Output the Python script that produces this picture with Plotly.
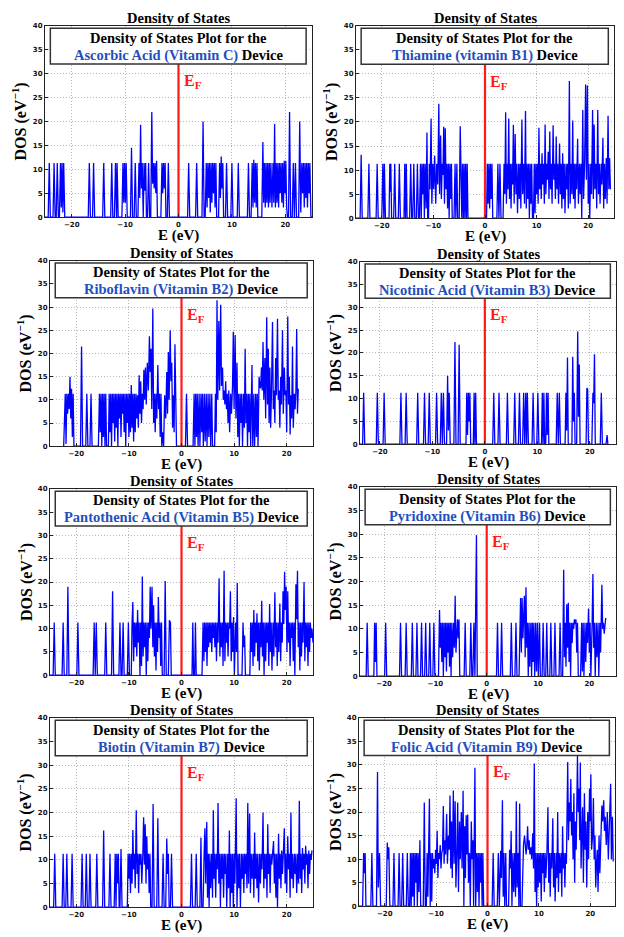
import plotly.graph_objects as go

# ---------------- data: (E in eV, DOS in 1/eV) ----------------
ascorbic_E_DOS = [(-25,0),(-24.4,0),(-24.2,11.3),(-24.0,0),(-23.5,0),(-23.3,11.3),(-23.1,0),(-22.9,0),(-22.7,11.3),(-22.5,0),
(-22.3,0),(-22.1,11.3),(-21.95,2),(-21.8,11.3),(-21.65,1),(-21.5,11.3),(-21.3,0),(-16.9,0),(-16.7,11.3),(-16.5,0),
(-16.1,0),(-15.9,11.3),(-15.7,0),(-14.2,0),(-14.0,11.3),(-13.8,0),(-12.7,0),(-12.5,11.3),(-12.3,0),
(-12.0,0),(-11.8,11.3),(-11.6,0),(-11.5,11.3),(-11.3,0),(-10.6,0),(-10.4,11.3),(-10.25,3),(-10.1,11.3),(-9.95,3),(-9.8,11.3),(-9.6,0),
(-9.0,0),(-8.8,14.5),(-8.6,0),(-8.3,0),(-8.1,11.3),(-7.9,0),(-7.6,0),(-7.4,11.3),(-7.25,4),(-7.1,19.3),(-6.95,6),(-6.8,11.3),(-6.65,0),
(-6.6,0),(-6.45,11.3),(-6.3,5.5),(-6.15,11.3),(-6.0,0),(-5.8,0),(-5.6,11.3),(-5.4,0),
(-5.2,0),(-5.0,22),(-4.85,7),(-4.7,11.3),(-4.55,6),(-4.4,11.3),(-4.25,5),(-4.1,11.8),(-3.95,0),
(-3.3,0),(-3.1,11.3),(-2.95,5),(-2.8,11.3),(-2.65,6),(-2.5,11.3),(-2.35,0),(-2.1,0),(-1.9,11.3),(-1.7,0),
(1.7,0),(1.9,11.3),(2.1,0),(3.2,0),(3.4,11.3),(3.6,0),(4.4,0),(4.6,20),(4.8,0),
(5.0,0),(5.2,11.3),(5.35,2),(5.5,11.3),(5.65,4),(5.8,11.3),(5.95,1),(6.1,11.3),(6.25,3),(6.4,11.3),(6.55,5),(6.7,11.3),(6.85,2),(7.0,11.3),(7.15,0),
(7.5,0),(7.7,11.3),(7.85,4),(8.0,12.7),(8.15,6),(8.3,11.3),(8.45,0),(8.8,0),(9.0,11.3),(9.2,0),(9.8,0),(10.0,11.3),(10.2,0),
(11.0,0),(11.2,11.3),(11.4,0),(12.9,0),(13.1,11.3),(13.3,0),
(13.6,0),(13.8,11.3),(13.95,2),(14.1,12.0),(14.25,3),(14.4,11.3),(14.55,2),(14.7,11.3),(14.85,0),
(15.6,0),(15.8,15.7),(15.95,3),(16.1,11.3),(16.25,2),(16.4,11.3),(16.55,3),(16.7,11.3),(16.85,2),(17.0,11.3),(17.15,3),(17.3,11.3),(17.5,2),(17.7,11.3),(17.85,3),
(18.0,19.5),(18.15,2),(18.3,11.3),(18.45,3),(18.6,11.3),(18.75,2),(18.9,11.3),(19.05,5),(19.2,11.3),(19.35,3),(19.5,11.3),(19.65,2),(19.8,11.8),(19.95,5),(20.1,11.8),(20.25,2),(20.4,0),
(20.6,0),(20.8,22),(21.0,0),(21.3,0),(21.5,11.3),(21.7,0),(21.9,11.3),(22.1,0),
(22.5,0),(22.7,20),(22.9,1),(23.1,11.3),(23.25,5),(23.4,11.3),(23.55,2),(23.7,11.3),(23.85,4),(24.0,11.3),(24.15,2),(24.3,11.3),(24.45,5),(24.6,11.3),(24.8,0),(25,0)]

thiamine_E_DOS = [(-25,0),(-24.2,0),(-24.0,13.2),(-23.8,0),(-22.7,0),(-22.5,11.3),(-22.3,0),(-21.1,0),(-20.9,11.3),(-20.7,0),
(-20.0,0),(-19.8,11.3),(-19.6,0),(-19.5,11.3),(-19.3,0),(-18.6,0),(-18.45,11.3),(-18.35,5.5),(-18.25,11.3),(-18.1,0),
(-17.7,0),(-17.5,11.3),(-17.3,0),(-16.8,0),(-16.6,11.3),(-16.4,0),(-15.7,0),(-15.55,11.3),(-15.4,0),(-15.25,11.3),(-15.1,0),
(-14.6,0),(-14.4,11.3),(-14.2,0),(-14.0,0),(-13.8,11.3),(-13.6,0),(-13.3,0),(-13.1,11.3),(-12.9,0),
(-12.7,0),(-12.5,11.3),(-12.35,0),(-12.2,11.3),(-12.05,5),(-11.9,11.3),(-11.75,0),(-11.6,11.3),(-11.4,2),(-11.25,17.8),(-11.1,0),
(-10.95,0),(-10.8,11.3),(-10.65,6),(-10.45,20.7),(-10.3,3),(-10.1,11.3),(-9.95,6),(-9.75,13),(-9.55,3),(-9.35,11.3),(-9.15,7),(-8.95,23.8),(-8.8,5),
(-8.6,17.2),(-8.45,4),(-8.3,11.3),(-8.15,9),(-8.0,19),(-7.85,3),(-7.7,18.7),(-7.55,6),(-7.4,11.3),(-7.25,2),(-7.1,11.3),(-6.95,0),(-6.8,11.3),(-6.65,4),(-6.5,11.3),(-6.35,0),
(-6.0,0),(-5.8,11.3),(-5.65,0),(-5.45,11.3),(-5.3,0),(-5.0,0),(-4.8,19.1),(-4.6,0),
(-4.5,0),(-4.35,11.3),(-4.2,0),(-4.05,11.3),(-3.9,0),(-3.75,11.3),(-3.6,0),(-3.45,11.3),(-3.3,0),
(-0.2,0),(0.0,0.5),(0.15,0),(0.3,0),(0.45,11.3),(0.6,3),(0.75,11.3),(0.9,2),(1.05,11.3),(1.2,4),(1.35,11.3),(1.5,0),
(2.3,0),(2.5,11.3),(2.7,0),(2.9,11.3),(3.1,0),
(3.5,0),(3.7,11.3),(3.85,5),(4.0,22),(4.15,3),(4.3,11.3),(4.45,6),(4.6,20.7),(4.75,4),(4.9,11.3),(5.05,2),(5.2,11.3),(5.35,7),(5.5,19.4),(5.65,3),(5.85,17.5),(6.0,5),
(6.15,11.3),(6.3,1),(6.5,11.3),(6.65,4),(6.8,11.3),(6.95,2),(7.15,20.5),(7.3,5),(7.5,11.3),(7.65,3),(7.85,22.3),(8.0,2),(8.15,11.3),(8.3,4),(8.45,11.3),(8.6,0),(8.75,11.3),(8.9,3),(9.05,11.3),(9.2,0),
(9.4,0),(9.55,11.3),(9.7,1),(9.85,11.3),(10.0,5),(10.15,11.3),(10.3,3),(10.45,18.8),(10.6,6),(10.75,11.3),(10.9,4),(11.05,13.5),(11.2,7),(11.35,11.3),(11.5,3),(11.65,19.5),(11.8,5),
(11.95,11.3),(12.1,8),(12.25,13.8),(12.4,4),(12.55,18),(12.7,6),(12.85,11.3),(13.0,3),(13.2,19.3),(13.35,8),(13.5,11.3),(13.65,4),(13.8,17),(13.95,6),(14.1,11.3),(14.25,3),(14.45,15.5),
(14.6,5),(14.75,11.3),(14.9,2),(15.05,13.5),(15.2,4),(15.35,11.3),(15.5,1),(15.7,11.3),(15.85,6),(16.0,11.3),(16.15,2),(16.35,28.5),(16.5,3),(16.7,11.3),(16.85,5),(17.0,20.3),(17.15,4),
(17.3,11.3),(17.45,2),(17.6,11.3),(17.75,6),(17.95,16.5),(18.1,3),(18.3,11.3),(18.45,5),(18.6,11.3),(18.75,0),(18.95,22.5),(19.1,4),(19.3,11.3),(19.5,27.8),(19.65,8),(19.85,27.6),(20.0,3),
(20.15,11.3),(20.3,0),(20.5,11.3),(20.65,5),(20.85,22.5),(21.0,4),(21.15,19.5),(21.3,6),(21.5,11.3),(21.65,2),(21.85,22.5),(22.0,5),(22.15,11.3),(22.3,3),(22.5,11.3),(22.65,7),(22.85,16.7),
(23.0,2),(23.15,11.3),(23.3,4),(23.5,12.5),(23.65,3),(23.85,21.3),(24.0,6),(24.15,12.5),(24.3,6)]

riboflavin_E_DOS = [(-22.4,0),(-22.1,11.3),(-21.95,0.5),(-21.8,11.3),(-21.65,7),(-21.5,11.3),(-21.35,8),(-21.2,15),(-21.05,6),(-20.9,12.4),(-20.75,2),(-20.6,11.3),(-20.45,0),
(-19.2,0),(-19.0,21.5),(-18.8,0),(-18.2,0),(-18.0,11.3),(-17.8,0),(-17.4,0),(-17.2,11.3),(-17.0,0),
(-15.8,0),(-15.6,11.3),(-15.45,3),(-15.3,11.3),(-15.15,0),(-15.0,11.3),(-14.85,2),(-14.7,11.3),(-14.55,0),(-14.4,11.3),(-14.25,0),
(-13.9,0),(-13.75,11.3),(-13.6,3),(-13.45,11.3),(-13.3,0),(-13.15,11.3),(-13.0,5),(-12.85,11.3),(-12.7,1),(-12.55,11.3),(-12.4,4),(-12.25,11.3),(-12.1,0),(-11.95,11.3),(-11.8,6),
(-11.65,11.3),(-11.5,2),(-11.35,11.3),(-11.2,7),(-11.05,11.3),(-10.9,3),(-10.75,11.3),(-10.6,0),(-10.45,11.3),(-10.3,5),(-10.15,11.3),(-10.0,2),(-9.85,11.3),(-9.7,3),(-9.55,13.2),(-9.4,4),
(-9.25,11.3),(-9.1,1),(-8.95,11.3),(-8.8,3),(-8.65,11.3),(-8.5,6),(-8.35,11),(-8.2,4),(-8.05,15.3),(-7.9,7),(-7.75,14),(-7.6,5),(-7.45,11.3),(-7.3,8),(-7.15,16.5),(-7.0,10),(-6.85,17),
(-6.7,9),(-6.5,18),(-6.3,12),(-6.1,23.7),(-5.95,16),(-5.8,21),(-5.65,8),(-5.45,29.7),(-5.3,5),(-5.15,11.3),(-5.0,3),(-4.85,11.3),(-4.7,6),(-4.5,17.5),(-4.35,8),(-4.2,11.3),(-4.05,2),
(-3.9,11.3),(-3.75,0),(-3.55,3),(-3.4,0),(-3.2,11),(-3.0,6),(-2.8,16),(-2.65,7),(-2.5,20.3),(-2.35,10),(-2.15,25),(-2.0,14),(-1.85,18),(-1.7,4),(-1.55,11),(-1.4,3),(-1.25,22),(-1.1,2),(-0.95,0),
(0.75,0),(0.95,11.3),(1.15,0),
(2.2,0),(2.4,11.3),(2.55,0),(2.7,11.3),(2.85,2),(3.0,11.3),(3.15,0),(3.35,11.3),(3.5,0),(3.7,11.3),(3.85,3),(4.0,11.3),(4.15,0),(4.35,11.3),(4.5,1),(4.7,11.3),(4.85,0),(5.05,11.3),
(5.2,2),(5.4,11.3),(5.55,0),(5.75,11.3),(5.9,0),(6.1,0),
(6.3,0),(6.45,11.3),(6.6,3),(6.75,31.5),(6.9,10),(7.1,27),(7.25,12),(7.45,30.5),(7.6,13),(7.8,17),(7.95,10),(8.1,12),(8.25,9),(8.4,14),(8.55,8),(8.7,11.3),(8.85,5),(9.0,12),(9.15,3),
(9.35,11.3),(9.5,7),(9.7,13),(9.85,24.7),(10.0,8),(10.2,24),(10.35,6),(10.55,18),(10.7,2),(10.85,11.3),(11.0,0),(11.15,11.3),(11.3,5),(11.45,11.3),(11.6,0),(11.8,11.3),(11.95,4),
(12.1,21),(12.25,5),(12.4,11.3),(12.55,0),(12.7,11.3),(12.85,3),(13.0,11.3),(13.15,0),(13.4,17.5),(13.55,0),(13.75,11.3),(13.9,0),(14.1,11.3),(14.25,2),(14.4,11.3),(14.55,0),(14.75,15),
(14.9,13),(15.05,12.5),(15.2,17),(15.35,12),(15.5,22.5),(15.65,10),(15.85,19),(16.0,6),(16.2,27.8),(16.35,9),(16.5,21),(16.65,5),(16.8,17),(16.95,4),(17.1,11.3),(17.3,26.8),(17.45,8),
(17.6,12),(17.75,5),(17.9,19),(18.05,11),(18.25,27.5),(18.4,10),(18.55,12),(18.7,4),(18.85,15),(19.0,9),(19.2,25),(19.35,7),(19.55,17),(19.7,11),(19.85,12),(20.0,3),(20.2,28),(20.35,9),
(20.5,15),(20.65,2.5),(20.8,11),(20.95,6),(21.1,21.5),(21.25,4),(21.45,11.3),(21.6,8),(21.75,12),(21.9,25.3),(22.05,7),(22.2,12.4)]

nicotinic_E_DOS = [(-23.8,0),(-23.3,0),(-23.1,11.3),(-22.9,0),(-20.7,0),(-20.5,11.3),(-20.3,0),(-19.4,0),(-19.2,11.3),(-19.0,0),
(-16.2,0),(-16.0,11.3),(-15.8,0),(-15.2,0),(-15.0,11.3),(-14.8,0),(-13.0,0),(-12.8,11.3),(-12.6,0),(-11.7,0),(-11.5,11.3),(-11.3,0),
(-10.8,0),(-10.6,11.3),(-10.4,0),(-9.4,0),(-9.2,11.3),(-9.0,0),(-8.5,0),(-8.3,11.3),(-8.1,0),(-7.9,11.3),(-7.7,0),
(-7.3,0),(-7.1,15),(-6.95,3),(-6.8,11.3),(-6.6,0),(-5.9,0),(-5.7,22.4),(-5.5,0),(-5.1,0),(-4.9,21.8),(-4.7,0),
(-3.6,0),(-3.45,11.3),(-3.3,2),(-3.15,11.3),(-3.0,5),(-2.85,11.3),(-2.7,0),(-2.2,0),(-2.05,11.3),(-1.9,0),(-1.75,11.3),(-1.6,0),
(1.5,0),(1.7,11.3),(1.9,0),(2.5,0),(2.7,11.3),(2.9,0),(4.1,0),(4.3,11.3),(4.5,0),(5.5,0),(5.7,11.3),(5.9,0),(6.4,0),(6.6,11.3),(6.8,0),
(7.2,0),(7.4,11.3),(7.6,0),(7.8,11.3),(7.95,0),(8.1,11.3),(8.3,0),(9.0,0),(9.2,11.3),(9.4,0),(9.9,0),(10.1,11.3),(10.3,0),
(10.8,0),(10.95,11.3),(11.1,0),(11.25,11.3),(11.4,0),(11.6,0),(11.75,11.3),(11.9,2),(12.05,11.3),(12.2,0),
(13.6,0),(13.8,11.3),(14.0,0),(14.2,11.3),(14.4,0),(15.3,0),(15.45,11.3),(15.6,3),(15.75,19),(15.9,0),
(16.6,0),(16.75,19.2),(16.9,5),(17.05,11.3),(17.2,0),(17.5,0),(17.7,24.7),(17.85,6),(18.0,17.5),(18.15,0),
(19.3,0),(19.45,12.3),(19.6,12),(19.75,0),(20.4,0),(20.6,11.3),(20.75,9),(20.9,19.7),(21.05,0),
(22.0,0),(22.2,11.3),(22.4,0),(23.1,0),(23.3,2),(23.45,0)]

pantothenic_E_DOS = [(-25,0),(-24.4,0),(-24.2,11.3),(-24.0,0),(-22.7,0),(-22.5,11.3),(-22.3,0),(-21.8,0),(-21.6,19),(-21.4,0),
(-19.9,0),(-19.7,11.3),(-19.5,0),(-16.8,0),(-16.6,11.3),(-16.4,0),(-16.2,11.3),(-16.0,0),(-14.6,0),(-14.4,11.3),(-14.2,0),
(-13.3,0),(-13.1,18),(-12.9,0),(-11.9,0),(-11.7,11.3),(-11.5,0),(-11.3,0),(-11.1,11.3),(-10.9,0),(-10.3,0),(-10.1,11.3),(-9.9,0),
(-9.55,0),(-9.4,11.3),(-9.25,15.7),(-9.1,3),(-8.95,11.3),(-8.8,6),(-8.65,11.3),(-8.5,4),(-8.35,14),(-8.2,7),(-8.05,11.3),(-7.9,0),(-7.75,11.3),(-7.6,2),(-7.45,21.2),
(-7.3,4),(-7.15,11.3),(-7.0,6),(-6.85,11.3),(-6.7,0),(-6.55,11.3),(-6.4,3),(-6.25,11.3),(-6.1,8),(-5.95,19),(-5.8,10),(-5.6,19),(-5.45,6),(-5.3,15),(-5.15,4),(-5.0,11.3),
(-4.85,1),(-4.7,11.3),(-4.55,5),(-4.4,16.8),(-4.25,8),(-4.1,11.3),(-3.95,2),(-3.8,11.3),(-3.65,0),
(-3.3,0),(-3.1,20.2),(-2.9,0),(-2.5,0),(-2.3,11.8),(-2.1,11.3),(-1.95,0),
(2.0,0),(2.15,11.3),(2.3,0),(2.5,0),(2.65,11.3),(2.8,0),
(3.9,0),(4.1,11.3),(4.25,3),(4.4,11.3),(4.55,5),(4.7,11.3),(4.85,2),(5.0,11.3),(5.15,6),(5.3,11.3),(5.45,7),(5.6,11.3),(5.75,5),(5.9,11.3),(6.05,8),(6.2,11.3),(6.35,6),
(6.5,11.3),(6.65,3),(6.8,11.3),(6.95,7),(7.15,20.8),(7.3,4),(7.45,11.3),(7.6,6),(7.75,11.3),(7.9,2),(8.1,22.4),(8.25,3),(8.4,11.3),(8.55,7),(8.7,11.3),(8.85,4),(9.0,11.3),
(9.15,10),(9.3,18),(9.45,3),(9.6,11.3),(9.75,5),(9.9,12.5),(10.05,0),(10.3,11.3),(10.45,5),(10.6,19.8),(10.75,0),
(11.5,0),(11.7,11.3),(11.85,6),(12.0,8.5),(12.15,0),
(13.0,0),(13.15,11.3),(13.3,5),(13.45,11.3),(13.6,2),(13.75,14),(13.9,4),(14.05,11.3),(14.2,7),(14.35,13.3),(14.5,3),(14.65,11.3),(14.8,1),(14.95,11.3),(15.1,6),(15.25,16),
(15.4,4),(15.55,11.3),(15.7,0),(15.85,11.3),(16.0,3),(16.15,11.3),(16.3,7),(16.45,11.3),(16.6,2),(16.75,15.3),(16.9,5),(17.05,11.3),(17.2,1),(17.4,11.3),(17.55,4),(17.75,17.8),
(17.9,6),(18.05,11.3),(18.2,2),(18.35,11.3),(18.5,5),(18.7,15.4),(18.85,3),(19.0,11.3),(19.15,7),(19.3,18),(19.45,11),(19.6,22.2),(19.75,14),(19.9,19),(20.05,5),(20.2,18),
(20.35,7),(20.5,11.3),(20.65,2),(20.8,11.3),(20.95,8),(21.1,11.3),(21.25,3),(21.4,11.3),(21.55,0),(21.75,19.5),(21.9,12),(22.05,22.4),(22.2,6),(22.35,11.3),(22.5,1),(22.65,11.3),
(22.8,4),(22.95,11.3),(23.1,7),(23.3,20),(23.45,3),(23.6,11.3),(23.75,6),(23.9,11.3),(24.05,2),(24.2,11.3),(24.35,5),(24.5,11.3),(24.65,8),(24.8,10),(25,7)]

pyridoxine_E_DOS = [(-24.7,0),(-23.5,0),(-23.3,11.3),(-23.1,0),(-22.0,0),(-21.85,11.3),(-21.7,3),(-21.55,11.3),(-21.4,0),(-19.9,0),(-19.7,11.3),(-19.5,0),
(-17.0,0),(-16.8,11.3),(-16.6,0),(-15.9,0),(-15.7,11.3),(-15.5,0),(-14.7,0),(-14.5,11.3),(-14.3,0),(-13.8,0),(-13.6,11.3),(-13.4,0),
(-12.9,0),(-12.7,11.3),(-12.5,0),(-12.1,0),(-11.9,11.3),(-11.7,0),(-11.3,0),(-11.1,11.3),(-10.9,0),(-10.5,0),(-10.3,11.3),(-10.1,0),
(-9.4,0),(-9.2,14),(-9.05,6),(-8.9,11.3),(-8.75,3),(-8.6,11.3),(-8.45,0),(-8.3,11.3),(-8.15,4),(-8.0,11.3),(-7.85,1),(-7.7,11.3),(-7.55,5),(-7.4,11.3),(-7.25,2),(-7.1,11.3),
(-6.95,0),(-6.8,11.3),(-6.65,4),(-6.45,11.3),(-6.3,6),(-6.15,17),(-6.0,5),(-5.85,11.3),(-5.7,12),(-5.55,8),(-5.4,12),(-5.25,0),
(-4.4,0),(-4.2,11.3),(-4.0,0),(-3.3,0),(-3.1,11.3),(-2.9,0),(-2.7,0),(-2.5,11.3),(-2.3,0),(-2.0,29.8),(-1.85,0),
(1.9,0),(2.1,11.3),(2.3,0),(2.7,0),(2.9,11.3),(3.1,0),(4.6,0),(4.8,11.3),(5.0,0),(5.5,0),(5.7,11.3),(5.9,0),
(6.3,0),(6.45,13),(6.6,16.5),(6.75,5),(6.9,16.5),(7.05,8),(7.2,11.3),(7.35,17),(7.5,4),(7.65,18.8),(7.8,6),(7.95,11.3),(8.1,0),(8.25,11.3),(8.4,2),(8.6,11.3),(8.75,0),
(8.9,11.3),(9.05,3),(9.2,11.3),(9.35,0),(9.55,11.3),(9.7,1),(9.9,11.3),(10.05,0),(10.3,11.3),(10.45,0),
(10.8,0),(11.0,11.3),(11.2,0),(11.5,0),(11.7,11.3),(11.9,0),(12.3,0),(12.5,11.3),(12.7,0),(13.1,0),(13.3,11.3),(13.5,0),(14.1,0),(14.3,11.3),(14.5,0),
(14.8,0),(15.0,22.5),(15.15,4),(15.3,11.3),(15.45,2),(15.6,15.2),(15.75,6),(15.9,15.5),(16.05,3),(16.2,11.3),(16.35,0),(16.5,11.3),(16.65,7),(16.8,11.3),(16.95,10),(17.1,12),
(17.25,11),(17.4,12),(17.55,5),(17.7,11.3),(17.85,0),
(18.3,0),(18.5,11.3),(18.65,1),(18.8,11.3),(18.95,0),(19.15,11.3),(19.3,3),(19.5,11.3),(19.65,7),(19.85,14.3),(20.0,5),(20.15,11.3),(20.3,0),(20.55,11.3),(20.7,21.6),(20.85,6),
(21.0,11.3),(21.15,0),(21.35,11.3),(21.5,4),(21.7,11.3),(21.85,0),(22.05,11.3),(22.2,5),(22.45,19.3),(22.6,10),(22.75,11.3),(22.9,9),(23.05,11.5),(23.2,12.3)]

biotin_E_DOS = [(-25,0),(-24.3,0),(-24.1,11.3),(-23.9,0),(-22.7,0),(-22.5,11.3),(-22.3,0),(-22.0,0),(-21.8,11.3),(-21.6,0),(-21.0,0),(-20.8,11.3),(-20.6,0),
(-19.1,0),(-18.9,11.3),(-18.7,0),(-18.3,0),(-18.1,11.3),(-17.9,0),(-17.6,0),(-17.4,11.3),(-17.2,0),(-16.3,0),(-16.1,11.3),(-15.9,0),
(-15.0,0),(-14.8,16.2),(-14.6,0),(-13.8,0),(-13.6,11.3),(-13.4,0),(-12.8,0),(-12.6,11.3),(-12.45,0),(-12.3,11.3),(-12.15,5),(-12.0,11.3),(-11.85,0),(-11.7,0),(-11.5,12.3),(-11.3,0),
(-10.3,0),(-10.15,11.3),(-10.0,6),(-9.85,11.3),(-9.7,3),(-9.55,11.3),(-9.4,5),(-9.25,16.3),(-9.1,8),(-8.95,11.3),(-8.8,4),(-8.6,20.5),(-8.45,7),(-8.3,11.3),(-8.15,3),(-8.0,11.3),
(-7.85,9),(-7.7,11.3),(-7.55,5),(-7.35,11.3),(-7.2,19),(-7.05,9),(-6.9,17.5),(-6.75,5),(-6.6,15),(-6.45,8),(-6.3,11.3),(-6.15,3),(-6.0,11.3),(-5.85,0),
(-5.6,0),(-5.4,21.8),(-5.2,0),(-4.7,0),(-4.5,18.8),(-4.3,0),(-3.7,0),(-3.5,11.3),(-3.3,0),(-3.0,0),(-2.8,14.5),(-2.65,7),(-2.5,11.3),(-2.35,0),(-2.1,0),(-1.9,11.3),(-1.7,0),
(1.7,0),(1.9,11.3),(2.1,0),(2.6,0),(2.8,11.3),(3.0,0),(3.5,0),(3.7,14.7),(3.85,0),
(4.1,0),(4.3,11.3),(4.45,16.7),(4.6,5),(4.8,18),(4.95,2),(5.1,11.3),(5.25,0),(5.4,11.3),(5.55,4),(5.75,11.3),(5.9,2),(6.05,20.5),(6.2,6),(6.35,11.3),(6.5,2),(6.65,11.3),(6.8,8),
(6.95,22),(7.1,5),(7.25,11.3),(7.4,0),(7.55,11.3),(7.7,6),(7.85,11.3),(8.0,2),(8.15,11.3),(8.3,7),(8.45,11.3),(8.6,0),(8.8,11.3),(8.95,4),(9.1,16.2),(9.25,0),(9.4,11.3),(9.55,3),
(9.7,11.3),(9.85,0),(10.0,11.3),(10.15,5),(10.4,23),(10.55,0),(10.75,11.3),(10.9,4),(11.05,11.3),(11.2,0),(11.4,11.3),(11.55,6),(11.7,11.3),(11.85,3),(12.0,11.3),(12.15,7),(12.3,11.3),
(12.45,4),(12.6,22),(12.75,5),(12.95,19.8),(13.1,3),(13.25,11.3),(13.4,6),(13.6,11.3),(13.75,2),(13.9,15.8),(14.05,6),(14.2,11.3),(14.35,4),(14.5,11.3),(14.65,1),(14.85,11.3),(15.0,5),
(15.15,11.3),(15.3,8),(15.5,20),(15.65,4),(15.8,11.3),(15.95,6),(16.1,11.3),(16.25,2),(16.4,17.5),(16.55,7),(16.7,11.3),(16.85,3),(17.0,11.3),(17.15,9),(17.35,11.3),(17.5,14),(17.65,5),
(17.8,11.3),(17.95,2),(18.1,11.3),(18.25,0),(18.45,15.5),(18.6,6),(18.75,11.3),(18.9,4),(19.05,12),(19.2,7),(19.4,11.3),(19.55,16.7),(19.7,5),(19.85,11.3),(20.0,3),(20.2,15),(20.35,8),
(20.5,11.3),(20.65,2),(20.8,20),(20.95,6),(21.1,11.3),(21.25,4),(21.45,11.3),(21.6,7),(21.75,11.3),(21.9,3),(22.1,11.3),(22.25,5),(22.4,22.5),(22.55,6),(22.7,11.3),(22.85,3),(23.0,12.5),
(23.15,8),(23.3,11.3),(23.45,5),(23.6,13),(23.75,9),(23.9,11.3),(24.05,4),(24.2,12),(24.35,7),(24.5,11.3),(24.65,10),(24.8,12)]

folic_E_DOS = [(-25,0),(-24.3,0),(-24.1,11.3),(-23.95,7),(-23.8,11.3),(-23.65,0),(-22.7,0),(-22.5,11.3),(-22.3,0),(-21.6,0),(-21.4,28.5),(-21.25,4),(-21.0,11.3),(-20.8,0),
(-19.7,0),(-19.5,13.5),(-19.35,10),(-19.2,12.5),(-19.0,0),(-18.4,0),(-18.2,11.3),(-18.0,0),(-17.4,0),(-17.2,11.3),(-17.0,0),(-16.7,0),(-16.5,11.3),(-16.3,0),(-15.8,0),(-15.6,11.3),(-15.4,0),
(-15.15,0),(-15.0,11.3),(-14.85,0),(-14.7,11.3),(-14.55,2),(-14.4,11.3),(-14.25,0),(-14.1,11.3),(-13.95,5),(-13.8,11.3),(-13.65,0),(-13.5,11.3),(-13.35,3),(-13.15,14),(-13.0,0),
(-12.5,0),(-12.3,22),(-12.1,0),(-11.9,0),(-11.75,11.3),(-11.6,2),(-11.3,22.8),(-11.15,0),(-11.0,11.3),(-10.85,1),(-10.7,11.3),(-10.55,8),(-10.4,10),(-10.25,7),(-10.1,12),(-9.95,9),
(-9.8,16),(-9.65,6),(-9.5,11.3),(-9.35,10),(-9.2,13),(-9.05,8),(-8.9,11.3),(-8.75,12),(-8.6,21.3),(-8.45,9),(-8.3,14),(-8.15,11),(-7.95,19.6),(-7.8,9),(-7.6,15),(-7.45,12),(-7.3,23.5),
(-7.15,8),(-7.0,18),(-6.85,6),(-6.65,24.6),(-6.5,9),(-6.3,22.3),(-6.15,4),(-5.95,12),(-5.8,22),(-5.65,3),(-5.45,18),(-5.3,10),(-5.1,20),(-4.95,8),(-4.75,24.5),(-4.6,0),(-4.45,17),
(-4.3,6),(-4.15,19.3),(-4.0,11),(-3.85,19.5),(-3.7,5),(-3.5,11.3),(-3.35,0),(-3.15,18),(-3.0,10),(-2.85,14),(-2.7,0),(-2.45,29.4),(-2.3,0),(-2.1,11.3),(-1.95,3),(-1.8,11.3),(-1.65,0),
(-1.5,11.3),(-1.35,5),(-1.2,11.3),(-1.05,0),(-0.9,11.3),(-0.75,0),
(0.9,0),(1.1,11.3),(1.3,0),(1.9,0),(2.1,11.3),(2.3,0),(2.55,11.8),(2.7,6),(2.9,22.5),(3.05,2),(3.2,11.3),(3.35,0),(3.55,11.3),(3.7,0),
(4.1,0),(4.3,12),(4.45,8),(4.6,16),(4.75,0),(4.95,11.3),(5.1,3),(5.3,11.3),(5.45,2),(5.6,22.3),(5.75,4),(5.95,11.3),(6.1,0),(6.25,21.8),(6.4,0),
(6.7,0),(6.85,11.3),(7.0,13),(7.2,15),(7.35,12),(7.5,11),(7.65,13),(7.8,17),(7.95,12),(8.1,14),(8.25,11),(8.45,12.5),(8.6,10),(8.8,15.5),(8.95,8),(9.1,30.3),(9.25,3),(9.4,11.3),
(9.55,0),(9.7,11.3),(9.85,4),(10.0,11.3),(10.15,5),(10.3,11.3),(10.45,1),(10.6,11.3),(10.75,7),(10.9,11.3),(11.05,3),(11.2,11.3),(11.35,6),(11.55,11.3),(11.75,21),(11.9,5),(12.05,11.3),
(12.2,2),(12.35,11.3),(12.5,8),(12.7,18.7),(12.85,4),(13.0,11.3),(13.15,1),(13.35,11.3),(13.5,6),(13.65,20),(13.8,3),(13.95,11.3),(14.1,7),(14.3,11.3),(14.45,2),(14.6,17),(14.75,8),
(14.9,11.3),(15.05,4),(15.2,11.3),(15.35,9),(15.6,30.6),(15.75,14),(15.9,22),(16.05,18),(16.2,27),(16.35,15),(16.5,20),(16.65,10),(16.8,24),(16.95,5),(17.1,18),(17.25,12),(17.5,32),
(17.65,20),(17.8,25),(17.95,14),(18.05,30.5),(18.2,8),(18.35,15),(18.5,21),(18.65,5),(18.85,24),(19.0,12),(19.15,18),(19.3,4),(19.5,20),(19.65,10),(19.85,25),(19.95,18),(20.1,28),
(20.25,12),(20.45,15),(20.6,23),(20.75,10),(20.9,15),(21.05,4),(21.2,9),(21.35,12),(21.5,3),(21.7,15),(21.85,7),(22.05,13),(22.25,21.4),(22.4,18),(22.6,22.5),(22.75,16),(22.9,19),
(23.1,13),(23.3,20),(23.5,10),(23.75,19),(23.95,26),(24.1,10),(24.3,19),(24.45,9.5)]

molecule_names = ["Ascorbic Acid (Vitamin C)", "Thiamine (vitamin B1)", "Riboflavin (Vitamin B2)",
                  "Nicotinic Acid (Vitamin B3)", "Pantothenic Acid (Vitamin B5)", "Pyridoxine (Vitamin B6)",
                  "Biotin (Vitamin B7)", "Folic Acid (Vitamin B9)"]
panel_data = [ascorbic_E_DOS, thiamine_E_DOS, riboflavin_E_DOS, nicotinic_E_DOS,
              pantothenic_E_DOS, pyridoxine_E_DOS, biotin_E_DOS, folic_E_DOS]
x_ranges = [[-25, 25], [-25, 25], [-25, 25], [-23.8, 25], [-25, 25], [-24.7, 25.2], [-25, 25], [-25, 24.8]]
x_tick_vals = [-20, -10, 0, 10, 20]
x_tick_text = ["\u221220", "\u221210", "0", "10", "20"]
y_tick_vals = [0, 5, 10, 15, 20, 25, 30, 35, 40]

# plot-area boxes in pixels: (left, right, top, bottom)
W, H = 624, 937
boxes = [(45, 312, 22, 215), (356, 614, 22, 216),
         (50, 313, 259, 446), (360, 616, 260, 444),
         (50, 313, 489, 677), (360, 616, 487, 678),
         (50, 313, 720, 911), (359, 615, 720, 910)]

SERIF = "Liberation Serif"
BLUE_TXT = "#1f4fbf"

fig = go.Figure()
annotations = []
shapes = []
for i, (name, pairs, xr, box) in enumerate(zip(molecule_names, panel_data, x_ranges, boxes)):
    n = i + 1
    sfx = "" if n == 1 else str(n)
    E = [p[0] for p in pairs]
    D = [p[1] for p in pairs]
    l, r, t, b = box
    xd = [l / W, r / W]
    yd = [1 - b / H, 1 - t / H]
    fig.add_trace(go.Scatter(x=E, y=D, mode="lines", line=dict(color="#0000ff", width=1.3),
                             xaxis="x" + sfx, yaxis="y" + sfx, showlegend=False, hoverinfo="skip"))
    # Fermi level line
    fig.add_trace(go.Scatter(x=[0, 0], y=[0, 32], mode="lines", line=dict(color="#ff1a1a", width=2.2),
                             xaxis="x" + sfx, yaxis="y" + sfx, showlegend=False, hoverinfo="skip"))
    common = dict(showgrid=True, gridcolor="#b8b8b8", griddash="1px,2px", gridwidth=1,
                  showline=True, linecolor="#222", linewidth=1, mirror=True,
                  ticks="inside", ticklen=3, tickcolor="#222", zeroline=False,
                  tickfont=dict(family="DejaVu Sans", size=7, color="#111", weight="bold"))
    fig.update_layout(**{
        "xaxis" + sfx: dict(domain=xd, range=xr, anchor="y" + sfx, tickvals=x_tick_vals,
                            ticktext=x_tick_text, **common),
        "yaxis" + sfx: dict(domain=yd, range=[0, 40], anchor="x" + sfx, tickvals=y_tick_vals, **common),
    })
    # legend-like box
    shapes.append(dict(type="rect", xref="x" + sfx + " domain", yref="y" + sfx,
                       x0=0.02, x1=0.978, y0=32, y1=39.5,
                       line=dict(color="#333", width=1.5), fillcolor="white", layer="above"))
    cx = (0.02 + 0.978) / 2
    annotations.append(dict(xref="x" + sfx + " domain", yref="y" + sfx, x=cx, y=37.5,
                            text="Density of States Plot for the", showarrow=False,
                            font=dict(family=SERIF, size=14.5, color="black", weight="bold"),
                            xanchor="center", yanchor="middle"))
    annotations.append(dict(xref="x" + sfx + " domain", yref="y" + sfx, x=cx, y=33.8,
                            text=f"<span style='color:{BLUE_TXT}'>{name}</span> Device", showarrow=False,
                            font=dict(family=SERIF, size=14.5, color="black", weight="bold"),
                            xanchor="center", yanchor="middle"))
    annotations.append(dict(xref="x" + sfx, yref="y" + sfx, x=0.6, y=28.3, text="E<sub>F</sub>",
                            showarrow=False, xanchor="left", yanchor="middle",
                            font=dict(family=SERIF, size=16, color="#ff1a1a", weight="bold")))
    # panel title, axis titles
    annotations.append(dict(xref="paper", yref="paper", x=(l + r) / 2 / W, y=1 - (t - 8) / H,
                            text="Density of States", showarrow=False, xanchor="center", yanchor="middle",
                            font=dict(family=SERIF, size=14.5, color="black", weight="bold")))
    annotations.append(dict(xref="paper", yref="paper", x=(l + r) / 2 / W, y=1 - (b + 18) / H,
                            text="E (eV)", showarrow=False, xanchor="center", yanchor="middle",
                            font=dict(family=SERIF, size=15, color="black", weight="bold")))
    annotations.append(dict(xref="paper", yref="paper", x=(l - 25) / W, y=1 - (t + b) / 2 / H,
                            text="DOS (eV<sup>\u22121</sup>)", showarrow=False, textangle=-90,
                            xanchor="center", yanchor="middle",
                            font=dict(family=SERIF, size=16, color="black", weight="bold")))

fig.update_layout(width=W, height=H, margin=dict(l=0, r=0, t=0, b=0),
                  paper_bgcolor="white", plot_bgcolor="white",
                  annotations=annotations, shapes=shapes, showlegend=False)
fig.write_html("out.html")
